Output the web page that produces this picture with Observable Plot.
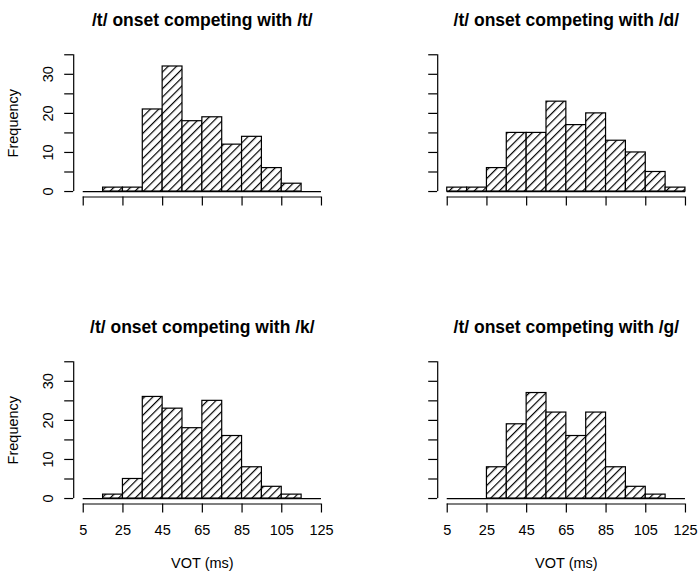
<!DOCTYPE html>
<html>
<head>
<meta charset="utf-8">
<script src="https://cdn.jsdelivr.net/npm/d3@7"></script>
<script src="https://cdn.jsdelivr.net/npm/@observablehq/plot@0.6"></script>
<style>
  html, body { margin: 0; padding: 0; background: #fff; }
  #wrap { position: relative; width: 700px; height: 577px; background: #fff; overflow: hidden; }
  #wrap svg { position: absolute; }
</style>
</head>
<body>
<div id="wrap"></div>
<script>
// ---- data ----
const binEdges = [5, 15, 25, 35, 45, 55, 65, 75, 85, 95, 105, 115, 125];
const countsT = [0, 1, 1, 21, 32, 18, 19, 12, 14, 6, 2, 0];
const countsD = [1, 1, 6, 15, 15, 23, 17, 20, 13, 10, 5, 1];
const countsK = [0, 1, 5, 26, 23, 18, 25, 16, 8, 3, 1, 0];
const countsG = [0, 0, 8, 19, 27, 22, 16, 22, 8, 3, 1, 0];
const titles = [
  "/t/ onset competing with /t/",
  "/t/ onset competing with /d/",
  "/t/ onset competing with /k/",
  "/t/ onset competing with /g/"
];
const xTicks = [5, 25, 45, 65, 85, 105, 125];
const yTicks = [0, 5, 10, 15, 20, 25, 30, 35];
const yTickLabels = [0, 10, 20, 30];
const xAxisTitle = "VOT (ms)";
const yAxisTitle = "Frequency";

// R-style 4% axis extension
const ext = (a, b) => [a - 0.04 * (b - a), b + 0.04 * (b - a)];
const xDomain = ext(xTicks[0], xTicks[xTicks.length - 1]);
const yDomain = ext(yTicks[0], yTicks[yTicks.length - 1]);

const FONT = '"Liberation Sans", Arial, Helvetica, sans-serif';
const LW = 1.2;
const LABEL_SIZE = 14.5;

const panels = [
  {counts: countsT, title: titles[0], left: 0,   top: 0,   width: 350, height: 307, xLabels: false, yLabels: true},
  {counts: countsD, title: titles[1], left: 364, top: 0,   width: 336, height: 307, xLabels: false, yLabels: false},
  {counts: countsK, title: titles[2], left: 0,   top: 307, width: 350, height: 270, xLabels: true,  yLabels: true},
  {counts: countsG, title: titles[3], left: 364, top: 307, width: 336, height: 270, xLabels: true,  yLabels: false}
];

const wrap = document.getElementById("wrap");

panels.forEach((p, i) => {
  const rows = p.counts.map((c, j) => ({x1: binEdges[j], x2: binEdges[j + 1], count: c}));
  const pid = "hatch" + i;
  const marginTop = 48.8, marginBottom = p.height - 196.5;
  const marginLeft = 73.2, marginRight = p.width - 330.5;

  const marks = [
    Plot.rect(rows.filter(d => d.count > 0), {
      x1: "x1", x2: "x2", y1: 0, y2: "count",
      fill: `url(#${pid})`, stroke: "black", strokeWidth: LW, inset: 0
    }),
    Plot.ruleY([0], {x1: binEdges[0], x2: binEdges[binEdges.length - 1], stroke: "black", strokeWidth: LW}),
    // axis lines
    Plot.ruleY([yDomain[0]], {x1: xTicks[0], x2: xTicks[xTicks.length - 1], stroke: "black", strokeWidth: LW}),
    Plot.ruleX([xDomain[0]], {y1: yTicks[0], y2: yTicks[yTicks.length - 1], stroke: "black", strokeWidth: LW}),
    Plot.axisX({
      ticks: xTicks, tickSize: 9, label: null, tickFormat: () => "", strokeWidth: LW
    }),
    Plot.axisY({
      ticks: yTicks, tickSize: 9, label: null, tickFormat: () => "", strokeWidth: LW
    }),
    Plot.text([p.title], {
      text: d => d, frameAnchor: "top", dy: 19.5 - marginTop, lineAnchor: "middle",
      dy: 19.5 - 6 - marginTop + 6,
      fontSize: 17.5, fontWeight: "bold", fill: "black"
    })
  ];
  if (p.xLabels) {
    marks.push(
      Plot.text(xTicks, {
        x: d => d, text: d => String(d), frameAnchor: "bottom", dy: 21, lineAnchor: "top",
        fontSize: LABEL_SIZE, fill: "black"
      }),
      Plot.text([xAxisTitle], {
        text: d => d, frameAnchor: "bottom", dy: 256 - 196.5, lineAnchor: "middle",
        fontSize: LABEL_SIZE, fill: "black"
      })
    );
  }
  if (p.yLabels) {
    marks.push(
      Plot.text(yTickLabels, {
        y: d => d, text: d => String(d), frameAnchor: "left", dx: -25,
        rotate: -90, textAnchor: "middle", lineAnchor: "middle", fontSize: LABEL_SIZE, fill: "black"
      }),
      Plot.text([yAxisTitle], {
        text: d => d, frameAnchor: "left", dx: -60,
        rotate: -90, textAnchor: "middle", lineAnchor: "middle", fontSize: LABEL_SIZE, fill: "black"
      })
    );
  }

  const svg = Plot.plot({
    width: p.width, height: p.height,
    marginTop, marginBottom, marginLeft, marginRight,
    x: {domain: xDomain, label: null},
    y: {domain: yDomain, label: null},
    style: {fontFamily: FONT, fontSize: LABEL_SIZE + "px", background: "white", color: "black", overflow: "visible"},
    marks
  });

  const ns = "http://www.w3.org/2000/svg";
  const defs = document.createElementNS(ns, "defs");
  const pat = document.createElementNS(ns, "pattern");
  pat.setAttribute("id", pid);
  pat.setAttribute("patternUnits", "userSpaceOnUse");
  pat.setAttribute("width", "5.9");
  pat.setAttribute("height", "5.9");
  pat.setAttribute("patternTransform", "rotate(45)");
  const bg = document.createElementNS(ns, "rect");
  bg.setAttribute("width", "5.9"); bg.setAttribute("height", "5.9"); bg.setAttribute("fill", "white");
  const ln = document.createElementNS(ns, "line");
  ln.setAttribute("x1", "0.6"); ln.setAttribute("y1", "-1");
  ln.setAttribute("x2", "0.6"); ln.setAttribute("y2", "7");
  ln.setAttribute("stroke", "black"); ln.setAttribute("stroke-width", "1.2");
  pat.appendChild(bg); pat.appendChild(ln);
  defs.appendChild(pat);
  svg.insertBefore(defs, svg.firstChild);

  svg.style.left = p.left + "px";
  svg.style.top = p.top + "px";
  wrap.appendChild(svg);
});
</script>
</body>
</html>
